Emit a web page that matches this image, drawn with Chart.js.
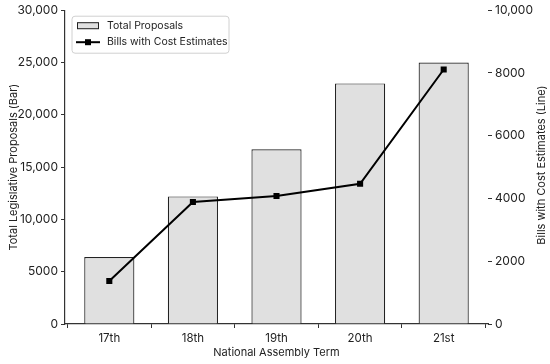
<!DOCTYPE html>
<html>
<head>
<meta charset="utf-8">
<script src="https://cdn.jsdelivr.net/npm/chart.js@4.4.1/dist/chart.umd.min.js"></script>
<style>
  html, body { margin: 0; padding: 0; background: #fff; }
</style>
</head>
<body>
<canvas id="myChart" width="550" height="364"></canvas>
<script>
const terms = ['17th', '18th', '19th', '20th', '21st'];
const totalProposals = [6400, 12200, 16700, 23000, 25000];
const costEstimateBills = [1370, 3890, 4080, 4470, 8110];
const leftTicks = [0, 5000, 10000, 15000, 20000, 25000, 30000];
const rightTicks = [0, 2000, 4000, 6000, 8000, 10000];

const fontFamily = 'Inter, "Noto Sans", sans-serif';
const textColor = '#222';
const rightTitle = 'Bills with Cost Estimates (Line)';

const fmt = (v) => v >= 10000 ? v.toLocaleString('en-US') : String(v);

// matplotlib-style legend with a frame in the upper left of the plot,
// plus the right axis title reading bottom-to-top
const extras = {
    id: 'extras',
    afterDraw(chart) {
        const { ctx, chartArea } = chart;
        const x = chartArea.left + 7;
        const y = chartArea.top + 6;
        const w = 157;
        const h = 37;
        ctx.save();
        ctx.beginPath();
        ctx.roundRect(x, y, w, h, 3);
        ctx.fillStyle = 'rgba(255,255,255,0.85)';
        ctx.fill();
        ctx.strokeStyle = '#d0d0d0';
        ctx.lineWidth = 1;
        ctx.stroke();

        // bar entry
        ctx.fillStyle = '#e0e0e0';
        ctx.fillRect(x + 5, y + 6, 22, 7);
        ctx.strokeStyle = '#222';
        ctx.strokeRect(x + 5.5, y + 6.5, 21, 6);

        // line entry
        ctx.beginPath();
        ctx.moveTo(x + 4, y + 26);
        ctx.lineTo(x + 28, y + 26);
        ctx.lineWidth = 2;
        ctx.strokeStyle = '#000';
        ctx.stroke();
        ctx.fillStyle = '#000';
        ctx.fillRect(x + 13, y + 23, 6, 6);

        ctx.fillStyle = textColor;
        ctx.font = '10.5px ' + fontFamily;
        ctx.textBaseline = 'middle';
        ctx.fillText(chart.data.datasets[0].label, x + 35, y + 10);
        ctx.fillText(chart.data.datasets[1].label, x + 35, y + 26);

        // right axis title
        ctx.translate(541.5, (chartArea.top + chartArea.bottom) / 2 - 2);
        ctx.rotate(-Math.PI / 2);
        ctx.textAlign = 'center';
        ctx.font = '11px ' + fontFamily;
        ctx.fillText(rightTitle, 0, 0);
        ctx.restore();
    }
};

const ctx = document.getElementById('myChart').getContext('2d');
const myChart = new Chart(ctx, {
    type: 'bar',
    data: {
        datasets: [{
            type: 'bar',
            label: 'Total Proposals',
            data: totalProposals.map((v, i) => ({ x: i, y: v })),
            backgroundColor: '#e0e0e0',
            borderColor: '#222',
            borderWidth: 1.2,
            barPercentage: 0.6,
            categoryPercentage: 1,
            yAxisID: 'y',
            order: 1
        }, {
            type: 'line',
            label: 'Bills with Cost Estimates',
            data: costEstimateBills.map((v, i) => ({ x: i, y: v })),
            borderColor: '#000',
            backgroundColor: '#000',
            borderWidth: 2,
            pointStyle: 'rect',
            pointRadius: 4.3,
            pointBorderWidth: 0,
            tension: 0,
            yAxisID: 'y2',
            order: 0
        }]
    },
    plugins: [extras],
    options: {
        responsive: false,
        animation: false,
        layout: { padding: { top: 8, bottom: 0, left: 0, right: 0 } },
        plugins: {
            legend: { display: false },
            tooltip: { enabled: false }
        },
        scales: {
            x: {
                type: 'linear',
                offset: false,
                min: -0.53,
                max: 4.53,
                afterBuildTicks: (axis) => { axis.ticks = terms.map((_, i) => ({ value: i })); },
                ticks: {
                    color: textColor,
                    font: { family: fontFamily, size: 11.5 },
                    padding: 4,
                    maxRotation: 0,
                    callback: (v) => terms[v]
                },
                grid: { drawOnChartArea: false, tickLength: 4, color: '#333' },
                border: { color: '#333', width: 1.2 },
                title: {
                    display: true,
                    text: 'National Assembly Term',
                    color: textColor,
                    font: { family: fontFamily, size: 11 },
                    padding: { top: 1, bottom: 5 }
                },
                afterFit: (axis) => { axis.height = 40; }
            },
            y: {
                position: 'left',
                min: 0,
                max: 30000,
                afterBuildTicks: (axis) => { axis.ticks = leftTicks.map(v => ({ value: v })); },
                ticks: {
                    color: textColor,
                    font: { family: fontFamily, size: 12 },
                    padding: 3,
                    callback: fmt
                },
                grid: { drawOnChartArea: false, tickLength: 4, color: '#333' },
                border: { color: '#333', width: 1.2 },
                title: {
                    display: true,
                    text: 'Total Legislative Proposals (Bar)',
                    color: textColor,
                    font: { family: fontFamily, size: 11 },
                    padding: { top: 7, bottom: 2 }
                },
                afterFit: (axis) => { axis.width = 65; }
            },
            y2: {
                position: 'right',
                min: 0,
                max: 10000,
                afterBuildTicks: (axis) => { axis.ticks = rightTicks.map(v => ({ value: v })); },
                ticks: {
                    color: textColor,
                    font: { family: fontFamily, size: 12 },
                    padding: 3,
                    callback: fmt
                },
                grid: { drawOnChartArea: false, tickLength: 4, color: '#333' },
                border: { display: false },
                title: { display: false },
                afterFit: (axis) => { axis.width = 62; }
            }
        }
    }
});
</script>
</body>
</html>
